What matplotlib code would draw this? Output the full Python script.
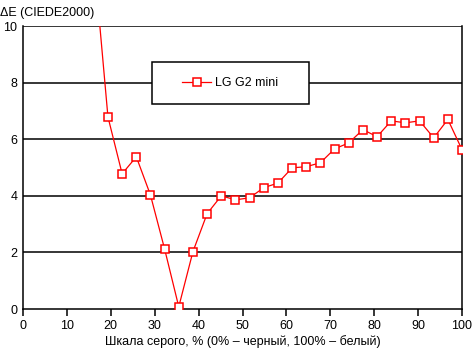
import numpy as np
import matplotlib.pyplot as plt
from matplotlib.patches import Rectangle

plt.rcParams['font.family'] = ['Liberation Sans', 'DejaVu Sans']

# серая шкала, шаг 100/31
gray = [16.13, 19.35, 22.58, 25.81, 29.03, 32.26, 35.48, 38.71, 41.94, 45.16,
        48.39, 51.61, 54.84, 58.06, 61.29, 64.52, 67.74, 70.97, 74.19, 77.42,
        80.65, 83.87, 87.10, 90.32, 93.55, 96.77, 100.0]
de = [12.4, 6.79, 4.78, 5.38, 4.03, 2.12, 0.08, 2.03, 3.37, 4.00,
      3.86, 3.93, 4.29, 4.45, 4.99, 5.03, 5.17, 5.66, 5.87, 6.34,
      6.09, 6.65, 6.58, 6.65, 6.05, 6.70, 5.63]
xticks = [0, 10, 20, 30, 40, 50, 60, 70, 80, 90, 100]
yticks = [0, 2, 4, 6, 8, 10]

fig = plt.figure(figsize=(4.72, 3.52), dpi=100)
ax = fig.add_axes([0.0487, 0.122, 0.9302, 0.804])

for y in yticks[1:]:
    ax.axhline(y, color='black', lw=1.1, zorder=1)

ax.plot(gray, de, color='red', lw=0.9, marker='s', ms=5.6, mfc='white',
        mec='red', mew=1.1, label='LG G2 mini', zorder=3)

ax.set_xlim(0, 100)
ax.set_ylim(0, 10)
ax.set_xticks(xticks)
ax.set_yticks(yticks)
ax.tick_params(axis='x', length=5, width=1.1, labelsize=9, pad=3)
ax.tick_params(axis='y', length=0, labelsize=9, pad=4)
ax.spines['top'].set_visible(False)
for s in ['left', 'right', 'bottom']:
    ax.spines[s].set_linewidth(1.1)

# рамка легенды
box = Rectangle((0.293, 0.723), 0.359, 0.151, transform=ax.transAxes,
                facecolor='white', edgecolor='black', lw=1.1, zorder=4)
ax.add_patch(box)
leg = ax.legend(loc='center left', bbox_to_anchor=(0.363, 0.799),
                frameon=False, fontsize=9, handlelength=2.3, borderpad=0,
                borderaxespad=0, handletextpad=0.35)
leg.set_zorder(5)

fig.text(0.0, 0.98, 'ΔE (CIEDE2000)', fontsize=9, va='top', ha='left')
ax.set_xlabel('Шкала серого, % (0% – черный, 100% – белый)', fontsize=9,
              labelpad=2)

plt.savefig('out.png', dpi=100)
